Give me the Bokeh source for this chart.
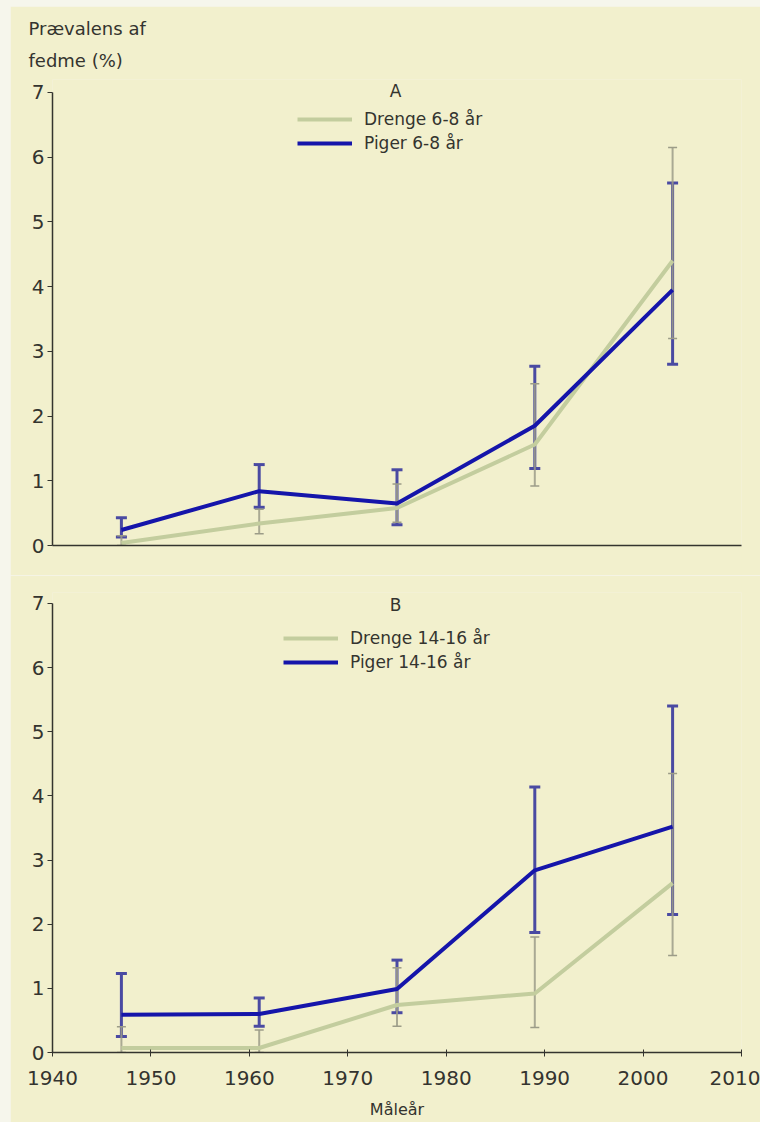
from bokeh.plotting import figure
from bokeh.layouts import column
from bokeh.models import FixedTicker, Legend, LegendItem, Label, Range1d, Title
from bokeh.embed import file_html
from bokeh.resources import INLINE

# Measurement years
years = [1947, 1961, 1975, 1989, 2003]

# Panel A: 6-8 year olds, prevalence of obesity (%) with confidence limits
boys_a = [0.04, 0.34, 0.58, 1.56, 4.40]
boys_a_lo = [0.00, 0.18, 0.36, 0.92, 3.20]
boys_a_hi = [0.15, 0.56, 0.95, 2.50, 6.15]
girls_a = [0.24, 0.84, 0.65, 1.85, 3.95]
girls_a_lo = [0.13, 0.59, 0.32, 1.19, 2.80]
girls_a_hi = [0.43, 1.25, 1.17, 2.77, 5.60]

# Panel B: 14-16 year olds
boys_b = [0.07, 0.07, 0.74, 0.92, 2.64]
boys_b_lo = [0.00, 0.00, 0.41, 0.39, 1.51]
boys_b_hi = [0.40, 0.35, 1.32, 1.80, 4.35]
girls_b = [0.59, 0.60, 0.99, 2.84, 3.52]
girls_b_lo = [0.25, 0.41, 0.62, 1.87, 2.15]
girls_b_hi = [1.23, 0.85, 1.44, 4.14, 5.40]

x_ticks = [1940, 1950, 1960, 1970, 1980, 1990, 2000, 2010]
y_ticks = [0, 1, 2, 3, 4, 5, 6, 7]

BG = "#f2f0cd"
PAGE = "#f6f6ec"
INK = "#34342f"
BLUE = "#1515aa"
BLUE_BAR = "#4a4aa2"
GREEN = "#c3cd9e"
GREY_BAR = "#9c9c88"
FONT = "DejaVu Sans"
TICK_FS = "20px"
TEXT_FS = "17px"


def make_panel(height, top, bottom, y_max, boys, blo, bhi, girls, glo, ghi,
               letter, letter_y, labels, legend_loc, show_x):
    p = figure(width=750, height=height, output_backend="svg",
               toolbar_location=None,
               x_range=Range1d(1940, 2010), y_range=Range1d(0, y_max),
               min_border_left=42, min_border_right=19,
               min_border_top=top, min_border_bottom=bottom)
    p.background_fill_color = BG
    p.border_fill_color = BG
    p.outline_line_color = None
    p.grid.visible = False

    # confidence intervals, girls underneath boys
    p.segment(years, glo, years, ghi, line_color=BLUE_BAR, line_width=3)
    p.scatter(years, glo, marker="dash", size=11, line_color=BLUE_BAR, line_width=3)
    p.scatter(years, ghi, marker="dash", size=11, line_color=BLUE_BAR, line_width=3)
    p.segment(years, blo, years, bhi, line_color=GREY_BAR, line_width=2, line_alpha=0.85)
    p.scatter(years, blo, marker="dash", size=9, line_color=GREY_BAR, line_width=1.5)
    p.scatter(years, bhi, marker="dash", size=9, line_color=GREY_BAR, line_width=1.5)

    r_boys = p.line(years, boys, line_color=GREEN, line_width=4)
    r_girls = p.line(years, girls, line_color=BLUE, line_width=4)

    legend = Legend(items=[LegendItem(label=labels[0], renderers=[r_boys]),
                           LegendItem(label=labels[1], renderers=[r_girls])],
                    location=legend_loc)
    legend.background_fill_alpha = 0
    legend.border_line_color = None
    legend.glyph_width = 55
    legend.glyph_height = 20
    legend.label_height = 20
    legend.label_standoff = 12
    legend.spacing = 4
    legend.padding = 0
    legend.margin = 0
    legend.label_text_font = FONT
    legend.label_text_font_size = TEXT_FS
    legend.label_text_color = INK
    p.add_layout(legend)

    p.add_layout(Label(x=1974.85, y=letter_y, text=letter, text_align="center",
                       text_baseline="alphabetic", text_font=FONT,
                       text_font_size=TEXT_FS, text_color=INK))

    ya = p.yaxis[0]
    ya.bounds = (0, 7)
    ya.ticker = FixedTicker(ticks=y_ticks)
    ya.major_tick_out = 5
    ya.major_tick_in = 0
    ya.minor_tick_line_color = None
    ya.major_label_standoff = 3
    ya.axis_line_color = INK
    ya.axis_line_width = 1.5
    ya.major_tick_line_color = INK
    ya.major_label_text_font = FONT
    ya.major_label_text_font_size = TICK_FS
    ya.major_label_text_color = INK

    xa = p.xaxis[0]
    xa.axis_line_color = INK
    xa.axis_line_width = 1.5
    xa.minor_tick_line_color = None
    if show_x:
        xa.ticker = FixedTicker(ticks=x_ticks)
        xa.major_tick_in = 3
        xa.major_tick_out = 4
        xa.major_tick_line_color = INK
        xa.major_label_standoff = 14
        xa.major_label_text_font = FONT
        xa.major_label_text_font_size = TICK_FS
        xa.major_label_text_color = INK
        xa.axis_label = "Måleår"
        xa.axis_label_standoff = 12
        xa.axis_label_text_font = FONT
        xa.axis_label_text_font_size = "16px"
        xa.axis_label_text_font_style = "normal"
        xa.axis_label_text_color = INK
    else:
        xa.ticker = FixedTicker(ticks=[])
        xa.major_tick_line_color = None
        xa.major_label_text_font_size = "0px"
    return p


p1 = make_panel(569, 73, 30, 7.20, boys_a, boys_a_lo, boys_a_hi,
                girls_a, girls_a_lo, girls_a_hi, "A", 7.03,
                ["Drenge 6-8 år", "Piger 6-8 år"], (245, 392), False)

# y-axis heading, two lines above the frame
p1.title.text = "Prævalens af"
p1.title.align = "left"
p1.title.offset = -24
p1.title.standoff = 2
p1.title.text_font = FONT
p1.title.text_font_size = "18px"
p1.title.text_font_style = "normal"
p1.title.text_color = INK
p1.add_layout(Title(text="fedme (%)", align="left", offset=-24, standoff=17,
                    text_font=FONT, text_font_size="18px",
                    text_font_style="normal", text_color=INK), "above")

p2 = make_panel(547, 17, 70, 7.17, boys_b, boys_b_lo, boys_b_hi,
                girls_b, girls_b_lo, girls_b_hi, "B", 6.97,
                ["Drenge 14-16 år", "Piger 14-16 år"], (231, 380), True)

layout = column(p1, p2, spacing=0,
                styles={"background-color": PAGE, "padding-left": "10px",
                        "padding-top": "6px"})

open("out.html", "w").write(file_html(layout, INLINE))
